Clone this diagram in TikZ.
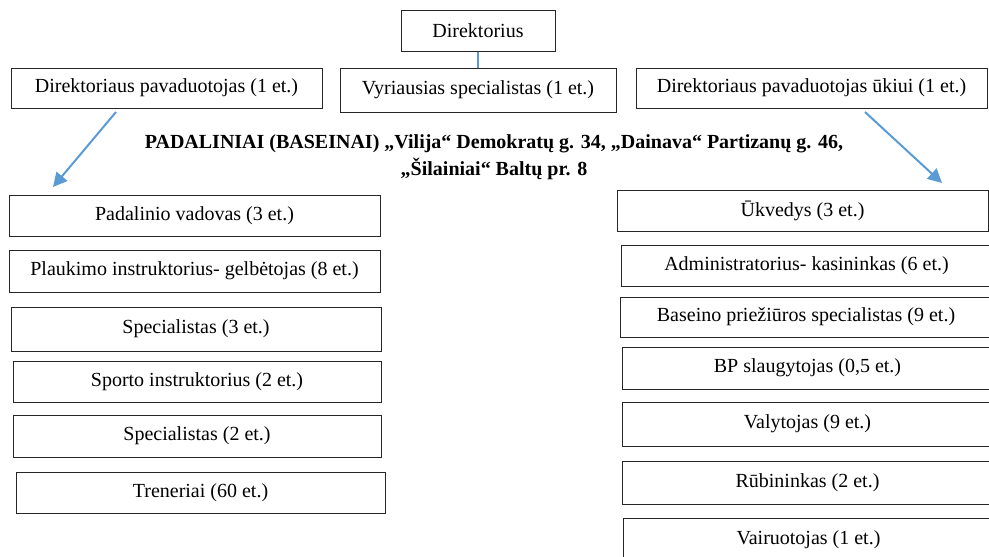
\documentclass[tikz,border=0pt]{standalone}
\usepackage{fontspec}
\setmainfont{Liberation Serif}
\usetikzlibrary{arrows.meta}
\definecolor{wordblue}{RGB}{91,155,213}
\begin{document}
\begin{tikzpicture}[x=1pt, y=-1pt,
  box/.style={draw=black!85, line width=1pt, inner sep=0pt, font=\fontsize{20}{24}\selectfont},
  link/.style={wordblue, line width=1.6pt},
  arrow/.style={wordblue, line width=2pt, -{Triangle[length=14pt,width=14pt]}},
  title/.style={align=center, inner sep=0pt, font=\fontsize{20}{27}\selectfont\bfseries}]
\useasboundingbox (0,0) rectangle (989,557);

\node[box, minimum width=154, minimum height=41] (dir) at (478,30.5) {Direktorius};
\node[box, minimum width=311, minimum height=40] (pav) at (166.5,88) {Direktoriaus pavaduotojas (1 et.)};
\node[box, minimum width=276, minimum height=44] (vyr) at (478,90) {Vyriausias specialistas (1 et.)};
\node[box, minimum width=351, minimum height=40] (ukio) at (811.5,88) {Direktoriaus pavaduotojas ūkiui (1 et.)};
\draw[link] (dir) -- (vyr);

\node[title, anchor=north] (padal) at (494,134)
  {PADALINIAI (BASEINAI) „Vilija“ Demokratų g. 34, „Dainava“ Partizanų g. 46,\\„Šilainiai“ Baltų pr. 8};

\coordinate (pavfrom) at (116,112);
\coordinate (pavto) at (53,187);
\coordinate (ukiofrom) at (865,112);
\coordinate (ukioto) at (942,183);
\draw[arrow] (pavfrom) -- (pavto);
\draw[arrow] (ukiofrom) -- (ukioto);

% padalinio darbuotojai
\node[box, minimum width=371, minimum height=41] (vadovas) at (194.5,215.5) {Padalinio vadovas (3 et.)};
\node[box, minimum width=371, minimum height=42] (plauk) at (194.5,271) {Plaukimo instruktorius- gelbėtojas (8 et.)};
\node[box, minimum width=370, minimum height=44] (spec3) at (196,329) {Specialistas (3 et.)};
\node[box, minimum width=368, minimum height=41] (sporto) at (197,381.5) {Sporto instruktorius (2 et.)};
\node[box, minimum width=368, minimum height=42] (spec2) at (197,436) {Specialistas (2 et.)};
\node[box, minimum width=369, minimum height=41] (tren) at (200.5,492.5) {Treneriai (60 et.)};

% ukio darbuotojai
\node[box, minimum width=371, minimum height=41] (ukv) at (802.5,210.5) {Ūkvedys (3 et.)};
\node[box, minimum width=371, minimum height=41] (admin) at (806.5,265.5) {Administratorius- kasininkas (6 et.)};
\node[box, minimum width=372, minimum height=40] (bas) at (806,317) {Baseino priežiūros specialistas (9 et.)};
\node[box, minimum width=371, minimum height=42] (bp) at (807.5,368) {BP slaugytojas (0,5 et.)};
\node[box, minimum width=371, minimum height=44] (valyt) at (807.5,424) {Valytojas (9 et.)};
\node[box, minimum width=371, minimum height=43] (rub) at (807.5,482.5) {Rūbininkas (2 et.)};
\node[box, minimum width=371, minimum height=44] (vair) at (808.5,540) {Vairuotojas (1 et.)};

\end{tikzpicture}
\end{document}
